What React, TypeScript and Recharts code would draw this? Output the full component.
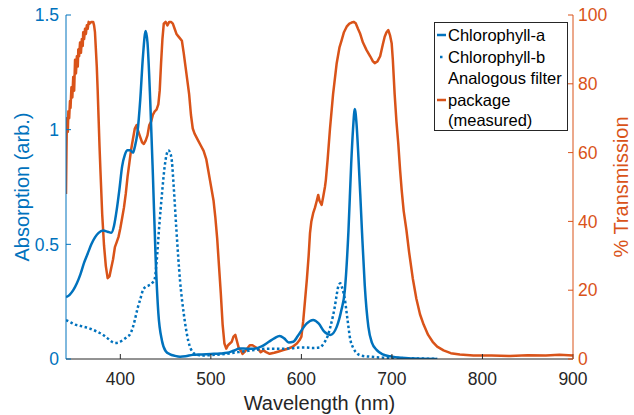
import React from 'react';
import { ComposedChart, Line, XAxis, YAxis, Legend } from 'recharts';

const BLUE = '#0072BD';
const ORANGE = '#D95319';
const INK = '#262626';
const FONT = '"Liberation Sans", Arial, Helvetica, sans-serif';

// Chlorophyll-a absorption (solid)
const chlAWavelength = [
  340, 344, 348, 352, 356, 360, 364, 368, 372, 376, 381, 386, 390, 393, 396, 399, 402, 405, 408, 411,
  414, 416, 419, 422, 425, 428, 430, 433, 436, 439, 442, 446, 450, 455, 460, 466, 472, 480, 490, 500,
  510, 518, 525, 532, 540, 548, 556, 564, 570, 576, 581, 586, 591, 596, 601, 606, 613, 619, 625, 632,
  639, 644, 648, 652, 655, 657, 659, 661, 663, 665, 667, 670, 674, 678, 683, 690, 698, 710, 725, 750,
];
const chlAValues = [
  0.27, 0.28, 0.3, 0.33, 0.37, 0.42, 0.46, 0.5, 0.53, 0.55, 0.56, 0.555, 0.55, 0.58, 0.65, 0.74, 0.84, 0.89, 0.91, 0.91,
  0.9, 0.925, 0.99, 1.13, 1.32, 1.43, 1.38, 1.13, 0.8, 0.44, 0.2, 0.08, 0.035, 0.02, 0.014, 0.01, 0.012, 0.018, 0.02, 0.022,
  0.024, 0.027, 0.036, 0.046, 0.045, 0.045, 0.055, 0.075, 0.09, 0.1, 0.09, 0.072, 0.075, 0.1, 0.13, 0.155, 0.17, 0.155, 0.12, 0.105,
  0.14, 0.21, 0.3, 0.56, 0.85, 1.0, 1.09, 1.02, 0.88, 0.72, 0.55, 0.32, 0.14, 0.07, 0.04, 0.02, 0.012, 0.005, 0.002, 0,
];

// Chlorophyll-b absorption (dotted)
const chlBWavelength = [
  340, 345, 350, 355, 360, 365, 370, 375, 381, 386, 390, 394, 398, 403, 407, 411, 414, 416, 419, 422,
  425, 428, 431, 435, 438, 440, 443, 446, 449, 451, 453, 455, 457, 459, 462, 466, 470, 475, 480, 485,
  490, 500, 510, 520, 530, 540, 550, 560, 570, 580, 590, 598, 605, 612, 620, 625, 629, 632, 635, 637,
  639, 641, 643, 645, 648, 651, 654, 657, 661, 666, 676, 690, 710, 730, 750,
];
const chlBValues = [
  0.17, 0.16, 0.15, 0.145, 0.14, 0.135, 0.127, 0.118, 0.105, 0.09, 0.077, 0.07, 0.072, 0.083, 0.095, 0.11, 0.14, 0.17, 0.22, 0.26,
  0.3, 0.315, 0.32, 0.33, 0.35, 0.42, 0.58, 0.72, 0.84, 0.89, 0.91, 0.9, 0.86, 0.75, 0.56, 0.34, 0.2, 0.08, 0.03, 0.018,
  0.015, 0.017, 0.02, 0.024, 0.03, 0.035, 0.04, 0.045, 0.045, 0.045, 0.047, 0.05, 0.05, 0.048, 0.05, 0.07, 0.1, 0.14, 0.19, 0.23,
  0.28, 0.32, 0.33, 0.31, 0.26, 0.17, 0.085, 0.05, 0.026, 0.015, 0.01, 0.006, 0.004, 0.002, 0.001,
];

// Analogous filter package, measured transmission (%)
const filterWavelength = [
  340, 340.5, 341, 342, 342.6, 343.5, 344.4, 345, 346, 347, 348, 349, 350, 351, 352, 353, 353.6, 354.5, 355.5, 356.5,
  357.5, 358.5, 359, 360, 361, 362, 363, 364, 365, 366, 368, 370, 371, 372, 373, 374, 375, 376, 377, 378,
  380, 382, 384, 386, 388, 390, 392, 394, 396, 398, 400, 402, 404, 406, 408, 410, 412, 414, 416, 418,
  420, 422, 424, 426, 428, 430, 432, 434, 436, 438, 440, 442, 443.5, 445, 446.5, 448, 450, 452, 454, 456,
  458, 460, 462, 465, 468, 470, 472, 474, 476, 478, 480, 482, 484, 486, 489, 492, 495, 497, 499, 501,
  503, 505, 507, 509, 511, 513, 515, 517, 519, 521, 523, 525, 527, 529, 531, 533, 535, 537, 540, 543,
  546, 549, 552, 555, 558, 561, 565, 570, 575, 580, 585, 590, 595, 598, 600, 602, 604, 606, 608, 609.5,
  611, 613, 615, 617, 618.6, 620, 622.4, 624, 626, 627, 629, 631.6, 635, 639, 642, 644.5, 647, 650, 653, 655.5,
  658, 660, 662.5, 664.7, 668, 672, 676, 679, 681, 684, 687, 690, 692, 694, 696, 698, 699.7, 701, 703, 705,
  707, 709, 710.8, 713, 716, 719, 723, 727, 731, 735, 740, 745, 750, 757, 765, 775, 790, 810, 830, 850,
  870, 885, 900,
];
const filterValues = [
  48, 60, 70, 66, 72, 70, 75, 73, 79, 76, 82, 78, 87, 83, 88, 85, 90, 88, 92, 89,
  93, 91, 95, 93, 96, 94.5, 97, 96, 98, 97.5, 98, 98, 97, 95, 90, 85, 78, 70, 62, 55,
  42, 33, 27, 23.5, 24, 26.5, 29, 32.5, 34, 35.5, 38, 41, 44, 48, 53, 57, 61, 64, 67, 68,
  66, 64.5, 63, 62.5, 63.5, 65, 68, 69, 71, 72, 72.5, 74, 78, 86, 93, 97.5, 98, 97, 98, 98,
  97.5, 96, 94.5, 93.5, 92.5, 89, 85, 81, 77, 71, 67, 65.5, 64.5, 63.5, 62, 60.5, 58, 55, 52, 49,
  46, 41, 35, 27, 19, 10, 4.5, 3, 4, 4.5, 5, 6.5, 7, 5, 3, 2.5, 1.5, 2, 3, 4,
  4, 3.5, 3, 2, 2.5, 2, 1.5, 1.8, 2.2, 2.6, 3, 3.5, 4.5, 5.5, 6.5, 11, 17, 23, 30, 36.6,
  40, 42.4, 44, 46, 47.7, 46, 44.8, 47, 50, 52, 58, 67, 77, 86, 90.5, 92.7, 95, 96.6, 97.5, 97.8,
  98, 97.6, 96, 94.7, 92, 89.8, 88, 86.5, 86, 86.5, 88, 91.5, 93.7, 95, 95.6, 94, 91.8, 87, 77, 69,
  62.7, 55, 49, 43, 37.5, 31, 23.5, 17.5, 13, 10, 7, 5, 3.6, 2.5, 1.7, 1.3, 1, 1, 0.9, 1.1,
  1, 1.2, 1,
];

const xTicks = [400, 500, 600, 700, 800, 900];
const absTicks = [0, 0.5, 1, 1.5];
const transTicks = [0, 20, 40, 60, 80, 100];

const zip = (xs: number[], ys: number[]) => xs.map((x, i) => ({ x, y: ys[i] }));
const chlA = zip(chlAWavelength, chlAValues);
const chlB = zip(chlBWavelength, chlBValues);
const filter = zip(filterWavelength, filterValues);

const LegendBox = () => (
  <svg width={134} height={109} style={{ display: 'block' }}>
    <rect x={0.5} y={0.5} width={133} height={108} fill="#fff" stroke={INK} strokeWidth={1} />
    <g fontFamily={FONT} fontSize={16.5} fill="#000">
      <line x1={3} x2={12} y1={13} y2={13} stroke={BLUE} strokeWidth={2.5} />
      <text x={14} y={13} dominantBaseline="central">Chlorophyll-a</text>
      <line x1={6} x2={10} y1={35} y2={35} stroke={BLUE} strokeWidth={2.5} strokeDasharray="2.5 2.5" />
      <text x={14} y={35} dominantBaseline="central">Chlorophyll-b</text>
      <text x={14} y={56} dominantBaseline="central">Analogous filter</text>
      <line x1={3} x2={12} y1={78} y2={78} stroke={ORANGE} strokeWidth={2.5} />
      <text x={14} y={78} dominantBaseline="central">package</text>
      <text x={14} y={98} dominantBaseline="central">(measured)</text>
    </g>
  </svg>
);

export default function App() {
  return (
    <div style={{ position: 'absolute', left: 0, top: 0, width: 634, height: 415, background: '#fff' }}>
      <ComposedChart width={634} height={415} margin={{ top: 15, right: 0, bottom: 0, left: 0 }}>
        <XAxis
          xAxisId="b"
          type="number"
          dataKey="x"
          domain={[340, 900]}
          ticks={xTicks}
          allowDataOverflow
          height={56}
          stroke={INK}
          tickSize={-5}
          tickMargin={18.5}
          tick={{ fill: INK, fontSize: 17.5, fontFamily: FONT }}
          label={{ value: 'Wavelength (nm)', position: 'center', dy: 16, fill: INK, fontSize: 20, fontFamily: FONT }}
        />
        <XAxis
          xAxisId="t"
          orientation="top"
          type="number"
          dataKey="x"
          domain={[340, 900]}
          ticks={xTicks}
          allowDataOverflow
          height={0}
          stroke={INK}
          tickSize={-5}
          tickFormatter={() => ''}
        />
        <YAxis
          yAxisId="l"
          type="number"
          domain={[0, 1.5]}
          ticks={absTicks}
          allowDataOverflow
          width={66}
          stroke={BLUE}
          tickSize={-5}
          tickMargin={12}
          tick={{ fill: BLUE, fontSize: 17.5, fontFamily: FONT }}
          label={{ value: 'Absorption (arb.)', angle: -90, position: 'center', dx: -11, fill: BLUE, fontSize: 20, fontFamily: FONT }}
        />
        <YAxis
          yAxisId="r"
          orientation="right"
          type="number"
          domain={[0, 100]}
          ticks={transTicks}
          allowDataOverflow
          width={61}
          stroke={ORANGE}
          tickSize={-5}
          tickMargin={10}
          tick={{ fill: ORANGE, fontSize: 17.5, fontFamily: FONT }}
          label={{ value: '% Transmission', angle: -90, position: 'center', dx: 17, fill: ORANGE, fontSize: 20, fontFamily: FONT }}
        />
        <Legend
          layout="vertical"
          align="center"
          verticalAlign="middle"
          wrapperStyle={{ top: 22, left: 434, width: 134, height: 109 }}
          content={() => <LegendBox />}
        />
        <Line
          xAxisId="b"
          yAxisId="r"
          data={filter}
          dataKey="y"
          name="Analogous filter package (measured)"
          type="linear"
          stroke={ORANGE}
          strokeWidth={2.5}
          strokeLinejoin="round"
          dot={false}
          isAnimationActive={false}
        />
        <Line
          xAxisId="b"
          yAxisId="l"
          data={chlA}
          dataKey="y"
          name="Chlorophyll-a"
          type="monotone"
          stroke={BLUE}
          strokeWidth={2.5}
          dot={false}
          isAnimationActive={false}
        />
        <Line
          xAxisId="b"
          yAxisId="l"
          data={chlB}
          dataKey="y"
          name="Chlorophyll-b"
          type="monotone"
          stroke={BLUE}
          strokeWidth={2.5}
          strokeDasharray="2.5 2.5"
          dot={false}
          isAnimationActive={false}
        />
      </ComposedChart>
    </div>
  );
}
